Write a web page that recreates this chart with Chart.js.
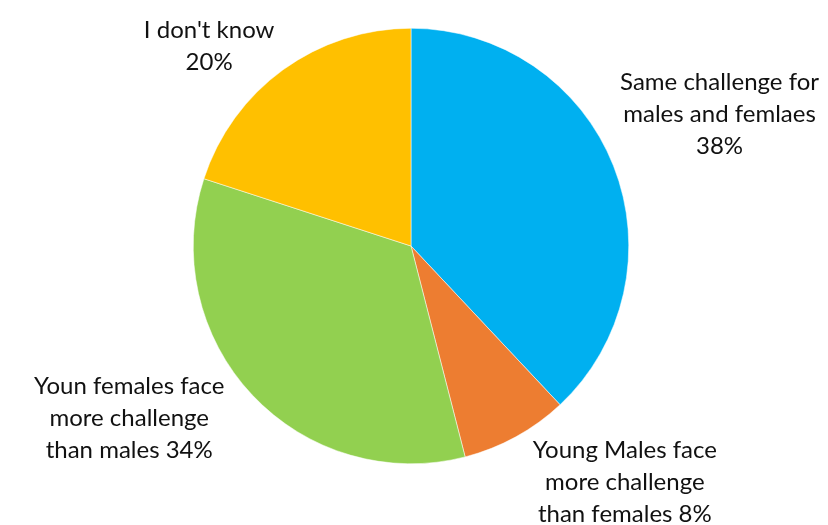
<!DOCTYPE html>
<html>
<head>
<meta charset="utf-8">
<script src="https://cdn.jsdelivr.net/npm/chart.js@4"></script>
<style>
  html, body { margin: 0; padding: 0; background: #fff; }
  #wrap { width: 828px; height: 525px; }
</style>
</head>
<body>
<div id="wrap"><canvas id="pie"></canvas></div>
<script>
// data, clockwise from 12 o'clock
var categories = ["Same challenge for males and femlaes", "Young Males face more challenge than females", "Youn females face more challenge than males", "I don't know"];
var shares = [38, 8, 34, 20];
var sliceColors = ["#00B0F0", "#ED7D31", "#92D050", "#FFC000"];

// label text lines as in the picture
var labelLines = [
  ["Same challenge for", "males and femlaes", "38%"],
  ["Young Males face", "more challenge", "than females 8%"],
  ["Youn females face", "more challenge", "than males 34%"],
  ["I don't know", "20%"]
];
// label centre, in pie radii from the pie centre
var labelSpot = [[1.417, -0.606], [0.982, 1.083], [-1.294, 0.789], [-0.927, -0.917]];

// draws the outside labels
var outsideLabels = {
  id: "outsideLabels",
  afterDatasetsDraw: function(chart) {
    var ctx = chart.ctx;
    var arcs = chart.getDatasetMeta(0).data;
    ctx.save();
    ctx.font = "24px Lato, 'Open Sans', sans-serif";
    ctx.fillStyle = "#111111";
    ctx.textAlign = "center";
    ctx.textBaseline = "middle";
    arcs.forEach(function(arc, i) {
      var lines = labelLines[i];
      var x = arc.x + labelSpot[i][0] * arc.outerRadius;
      var y = arc.y + labelSpot[i][1] * arc.outerRadius;
      var lh = 32;
      var top = y - (lines.length - 1) * lh / 2;
      lines.forEach(function(t, k) {
        ctx.fillText(t, x, top + k * lh);
      });
    });
    ctx.restore();
  }
};

var grafico = new Chart(document.getElementById("pie"), {
  type: "pie",
  data: {
    labels: categories,
    datasets: [{
      data: shares,
      backgroundColor: sliceColors,
      borderColor: "#ffffff",
      borderWidth: 0.5
    }]
  },
  options: {
    responsive: true,
    maintainAspectRatio: false,
    animation: false,
    layout: { padding: { top: 28, bottom: 61, left: 0, right: 6 } },
    plugins: {
      legend: { display: false },
      tooltip: { enabled: false }
    }
  },
  plugins: [outsideLabels]
});
</script>
</body>
</html>
